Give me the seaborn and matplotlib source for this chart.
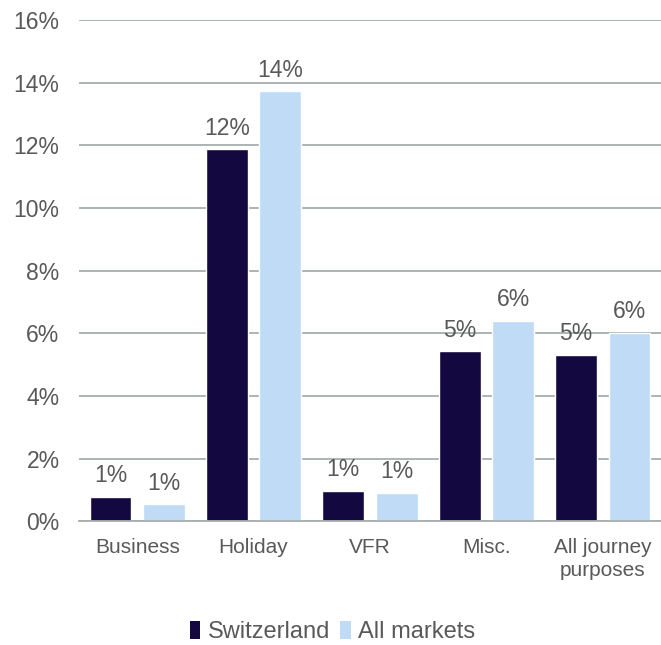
import pandas as pd
import seaborn as sns
import matplotlib.pyplot as plt
from matplotlib.ticker import MultipleLocator, FuncFormatter
from matplotlib.patches import Patch

# values (percent)
categories = ["Business", "Holiday", "VFR", "Misc.", "All journey\npurposes"]
switzerland = [0.77, 11.87, 0.97, 5.42, 5.32]
all_markets = [0.54, 13.72, 0.90, 6.40, 6.02]
series = ["Switzerland", "All markets"]
colors = ["#130840", "#bfdbf5"]

text_col = "#595959"
grid_col = "#a6aeae"

df = pd.DataFrame({
    "category": categories * 2,
    "value": switzerland + all_markets,
    "series": [series[0]] * len(categories) + [series[1]] * len(categories),
})

sns.set_style("white")
plt.rcParams["font.family"] = ["Liberation Sans", "DejaVu Sans"]

fig = plt.figure(figsize=(6.61, 6.45), dpi=100)
ax = fig.add_axes([0.1195, 0.192, 0.8805, 0.777])

sns.barplot(data=df, x="category", y="value", hue="series",
            palette=colors, width=0.92, gap=0.22, saturation=1,
            legend=False, ax=ax)

for container in ax.containers:
    ax.bar_label(container, labels=[f"{v:.0f}%" for v in container.datavalues],
                 padding=7, fontsize=16.5, color=text_col)

ax.set_ylim(0, 16)
ax.set_xlim(-0.5, 4.5)
ax.yaxis.set_major_locator(MultipleLocator(2))
ax.yaxis.set_major_formatter(FuncFormatter(lambda v, _: f"{v:.0f}%"))
ax.grid(axis="y", color=grid_col, linewidth=1.3)
ax.set_axisbelow(True)
for s in ["left", "right", "top"]:
    ax.spines[s].set_visible(False)
ax.spines["bottom"].set_color(grid_col)
ax.spines["bottom"].set_linewidth(1.3)
ax.tick_params(axis="y", length=0, pad=14, labelsize=16.5, labelcolor=text_col)
ax.tick_params(axis="x", length=0, pad=12, labelsize=15, labelcolor=text_col)
for lbl in ax.get_xticklabels():
    lbl.set_linespacing(1.3)
ax.set_xlabel("")
ax.set_ylabel("")

handles = [Patch(facecolor=c, edgecolor="none", label=s) for c, s in zip(colors, series)]
fig.legend(handles=handles, loc="center", bbox_to_anchor=(0.503, 0.02),
           ncol=2, frameon=False, fontsize=17, handlelength=0.45, handleheight=0.75,
           handletextpad=0.3, columnspacing=0.45, labelcolor=text_col)

fig.savefig("out.png", dpi=100)
